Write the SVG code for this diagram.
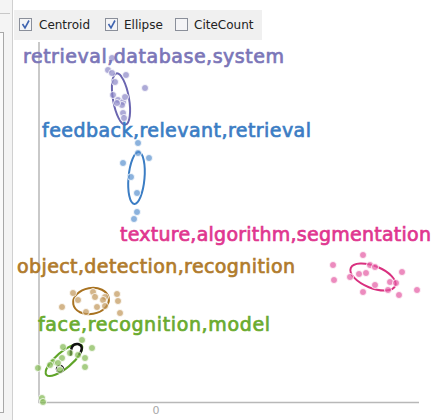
<svg xmlns="http://www.w3.org/2000/svg" width="439" height="420" viewBox="0 0 439 420">
<style>
.ui{font-family:"DejaVu Sans","Liberation Sans",sans-serif;font-size:12px;fill:#222}
.lbl{font-family:"DejaVu Sans","Liberation Sans",sans-serif;font-size:19px;stroke-width:0.7}
.cb{fill:#f4f4f6;stroke:#8a8f9a;stroke-width:1}
.ax{stroke:#b8b8b8;stroke-width:1.5;fill:none}
.pu{fill:#8a86c6;fill-opacity:.7;stroke:#fff;stroke-width:.8}
.bl{fill:#5a92cf;fill-opacity:.7;stroke:#fff;stroke-width:.8}
.pk{fill:#e45aa3;fill-opacity:.7;stroke:#fff;stroke-width:.8}
.br{fill:#c09558;fill-opacity:.7;stroke:#fff;stroke-width:.8}
.gr{fill:#80b850;fill-opacity:.7;stroke:#fff;stroke-width:.8}
.el{fill:none;stroke-width:2}
</style>
<rect width="439" height="420" fill="#fff"/>
<g id="leftpanel">
<rect x="0" y="0" width="12" height="420" fill="#f4f4f4"/>
<line x1="12.5" y1="0" x2="12.5" y2="420" stroke="#d0d0d0"/>
<path d="M0 13.5 H10" stroke="#c8c8c8" fill="none"/>
<rect x="-1" y="32.5" width="4.5" height="380" fill="#fafafa" stroke="#a8a8a8"/>
</g>
<g id="toolbar">
<rect x="14" y="10" width="248" height="30" fill="#f0f0f0"/>
<rect class="cb" x="19.5" y="18.5" width="12" height="12"/>
<path d="M22.5 24 L25 28 L29 20.5" stroke="#3f64b0" stroke-width="1.6" fill="none"/>
<text class="ui" x="39" y="29">Centroid</text>
<rect class="cb" x="105.5" y="18.5" width="12" height="12"/>
<path d="M108.5 24 L111 28 L115 20.5" stroke="#3f64b0" stroke-width="1.6" fill="none"/>
<text class="ui" x="124" y="29">Ellipse</text>
<rect class="cb" x="175.5" y="18.5" width="12" height="12"/>
<text class="ui" x="194" y="29">CiteCount</text>
</g>
<g id="axes">
<path class="ax" d="M39 42 V402.5 H419"/>
<text x="156" y="414" font-family="DejaVu Sans,sans-serif" font-size="11" fill="#a8a8a8" text-anchor="middle">0</text>
</g>
<g id="cluster-retrieval">
<ellipse class="el" cx="121" cy="99" rx="8" ry="26" transform="rotate(-10 121 99)" stroke="#6b66b0"/>
<g class="pu">
<circle cx="112" cy="58" r="3.5"/><circle cx="108" cy="70" r="3.5"/><circle cx="112" cy="73" r="3.5"/><circle cx="126" cy="75" r="3.5"/><circle cx="115" cy="82" r="3.5"/><circle cx="145" cy="88" r="3.5"/><circle cx="113" cy="95" r="3.5"/><circle cx="118" cy="100" r="3.5"/><circle cx="123" cy="102" r="3.5"/><circle cx="125" cy="97" r="3.5"/><circle cx="122" cy="105" r="3.5"/><circle cx="117" cy="103" r="3.5"/><circle cx="123" cy="113" r="3.5"/><circle cx="124" cy="118" r="3.5"/>
</g>
<text class="lbl" x="23" y="63" fill="#7b76b8" stroke="#7b76b8" textLength="261">retrieval,database,system</text>
</g>
<g id="cluster-feedback">
<ellipse class="el" cx="136.5" cy="178" rx="8" ry="26" transform="rotate(5 136.5 178)" stroke="#3b7dc4"/>
<g class="bl">
<circle cx="138" cy="143" r="3.5"/><circle cx="138" cy="153" r="3.5"/><circle cx="149" cy="158" r="3.5"/><circle cx="123" cy="163" r="3.5"/><circle cx="131" cy="177" r="3.5"/><circle cx="137" cy="193" r="3.5"/><circle cx="137" cy="212" r="3.5"/><circle cx="134" cy="219" r="3.5"/>
</g>
<text class="lbl" x="42" y="137" fill="#3b7dc4" stroke="#3b7dc4" textLength="269">feedback,relevant,retrieval</text>
</g>
<g id="cluster-texture">
<ellipse class="el" cx="373" cy="277" rx="24" ry="11" transform="rotate(22 373 277)" stroke="#d9307f"/>
<g class="pk">
<circle cx="363" cy="255" r="3.5"/><circle cx="333" cy="265" r="3.5"/><circle cx="370" cy="265" r="3.5"/><circle cx="375" cy="267" r="3.5"/><circle cx="402" cy="272" r="3.5"/><circle cx="350" cy="277" r="3.5"/><circle cx="359" cy="274" r="3.5"/><circle cx="366" cy="273" r="3.5"/><circle cx="334" cy="280" r="3.5"/><circle cx="390" cy="282" r="3.5"/><circle cx="396" cy="283" r="3.5"/><circle cx="375" cy="285" r="3.5"/><circle cx="388" cy="290" r="3.5"/><circle cx="363" cy="292" r="3.5"/><circle cx="399" cy="295" r="3.5"/><circle cx="417" cy="290" r="3.5"/>
</g>
<text class="lbl" x="120" y="241" fill="#e0368f" stroke="#e0368f" textLength="311">texture,algorithm,segmentation</text>
</g>
<g id="cluster-object">
<ellipse class="el" cx="91" cy="301" rx="18" ry="13" transform="rotate(-10 91 301)" stroke="#a87220"/>
<g class="br">
<circle cx="73" cy="293" r="3.5"/><circle cx="93" cy="292" r="3.5"/><circle cx="95" cy="297" r="3.5"/><circle cx="105" cy="297" r="3.5"/><circle cx="117" cy="294" r="3.5"/><circle cx="78" cy="300" r="3.5"/><circle cx="103" cy="300" r="3.5"/><circle cx="118" cy="301" r="3.5"/><circle cx="62" cy="307" r="3.5"/><circle cx="97" cy="307" r="3.5"/><circle cx="105" cy="306" r="3.5"/><circle cx="86" cy="312" r="3.5"/><circle cx="120" cy="313" r="3.5"/>
</g>
<text class="lbl" x="17" y="273" fill="#b07b2c" stroke="#b07b2c" textLength="278">object,detection,recognition</text>
</g>
<g id="cluster-face">
<ellipse class="el" cx="64" cy="360" rx="23" ry="8" transform="rotate(-40 64 360)" stroke="#5fa428"/>
<path d="M71 356 Q70 343 78 344 Q85 346 79 355" fill="none" stroke="#111" stroke-width="2.5"/>
<circle cx="60" cy="369" r="3.5" fill="none" stroke="#111" stroke-width="1.5"/>
<g class="gr">
<circle cx="82" cy="340" r="3.5"/><circle cx="63" cy="347" r="3.5"/><circle cx="92" cy="348" r="3.5"/><circle cx="70" cy="353" r="3.5"/><circle cx="78" cy="355" r="3.5"/><circle cx="62" cy="358" r="3.5"/><circle cx="85" cy="358" r="3.5"/><circle cx="53" cy="362" r="3.5"/><circle cx="58" cy="363" r="3.5"/><circle cx="50" cy="365" r="3.5"/><circle cx="38" cy="368" r="3.5"/><circle cx="85" cy="367" r="3.5"/><circle cx="60" cy="370" r="3.5"/><circle cx="42" cy="398" r="3.5"/><circle cx="43" cy="402" r="3.5"/>
</g>
<text class="lbl" x="38" y="331" fill="#6aab2e" stroke="#6aab2e" textLength="232">face,recognition,model</text>
</g>
</svg>
